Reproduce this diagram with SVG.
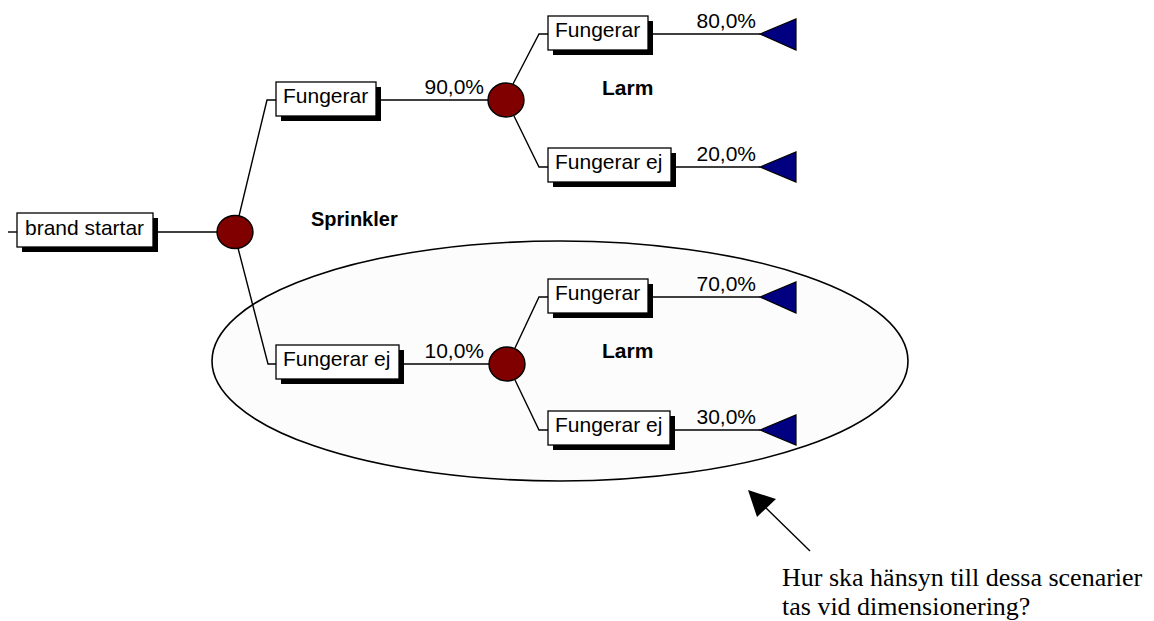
<svg xmlns="http://www.w3.org/2000/svg" width="1154" height="621" viewBox="0 0 1154 621">
<style>
.sh{fill:#000}
.bx{fill:#fff;stroke:#000;stroke-width:1.3}
.lbl{font-family:"Liberation Sans",Arial,sans-serif;font-size:21px;fill:#000}
.bold{font-family:"Liberation Sans",Arial,sans-serif;font-size:21px;font-weight:bold;fill:#000}
.pct{font-family:"Liberation Sans",Arial,sans-serif;font-size:21px;fill:#000;text-anchor:end}
.ln{fill:none;stroke:#000;stroke-width:1.4}
.ch{fill:#800000;stroke:#000;stroke-width:1.4}
.end{fill:#000080;stroke:#000;stroke-width:1.2}
.note{font-family:"Liberation Serif","Times New Roman",serif;font-size:26px;fill:#000}
</style>
<rect width="1154" height="621" fill="#fff"/>
<ellipse id="scenario-ellipse" cx="560" cy="361" rx="348" ry="120" fill="#fcfcfc" stroke="#000" stroke-width="1.6"/>
<g id="connectors">
<path class="ln" d="M8 232H17"/>
<path class="ln" d="M153 232H217"/>
<path class="ln" d="M239 216L267 100H276"/>
<path class="ln" d="M238 248L268 364H276"/>
<path class="ln" d="M376 100H488"/>
<path class="ln" d="M399 364H489"/>
<path class="ln" d="M513 84L539 34H548"/>
<path class="ln" d="M514 116L539 167H548"/>
<path class="ln" d="M515 348L539 297H548"/>
<path class="ln" d="M515 380L539 430H548"/>
<path class="ln" d="M648 34H760"/>
<path class="ln" d="M671 167H760"/>
<path class="ln" d="M648 297H760"/>
<path class="ln" d="M670 430H760"/>
<path class="ln" d="M810 551L765 507" stroke-width="1.8"/>
<polygon points="748,490 757,517 776,499" fill="#000"/>
</g>
<g id="n-brand"><rect class="sh" x="22" y="218" width="136" height="34"/><rect class="bx" x="17" y="213" width="136" height="34"/><text class="lbl" x="25" y="235">brand startar</text></g>
<g id="c-sprinkler"><ellipse class="ch" cx="235" cy="232" rx="18" ry="16.5"/><text class="bold" x="311" y="226" style="font-size:20px">Sprinkler</text></g>
<g id="n-s-fungerar"><rect class="sh" x="281" y="87" width="100" height="34"/><rect class="bx" x="276" y="82" width="100" height="34"/><text class="lbl" x="283" y="103">Fungerar</text><text class="pct" x="484" y="94">90,0%</text></g>
<g id="n-s-fungerar-ej"><rect class="sh" x="281" y="350" width="123" height="34"/><rect class="bx" x="276" y="345" width="123" height="34"/><text class="lbl" x="283" y="366">Fungerar ej</text><text class="pct" x="484" y="358">10,0%</text></g>
<g id="c-larm-1"><ellipse class="ch" cx="506" cy="100" rx="18" ry="17"/><text class="bold" x="602" y="95">Larm</text></g>
<g id="c-larm-2"><ellipse class="ch" cx="507" cy="364" rx="18" ry="17"/><text class="bold" x="602" y="358">Larm</text></g>
<g id="n-l1-fungerar"><rect class="sh" x="553" y="21" width="100" height="34"/><rect class="bx" x="548" y="16" width="100" height="34"/><text class="lbl" x="555" y="37">Fungerar</text><text class="pct" x="756" y="28">80,0%</text><polygon class="end" points="760,34 796,19 796,50"/></g>
<g id="n-l1-fungerar-ej"><rect class="sh" x="553" y="153" width="123" height="34"/><rect class="bx" x="548" y="148" width="123" height="34"/><text class="lbl" x="555" y="169">Fungerar ej</text><text class="pct" x="756" y="161">20,0%</text><polygon class="end" points="760,167 796,152 796,182"/></g>
<g id="n-l2-fungerar"><rect class="sh" x="553" y="284" width="100" height="34"/><rect class="bx" x="548" y="279" width="100" height="34"/><text class="lbl" x="555" y="300">Fungerar</text><text class="pct" x="756" y="291">70,0%</text><polygon class="end" points="760,297 796,282 796,313"/></g>
<g id="n-l2-fungerar-ej"><rect class="sh" x="553" y="416" width="122" height="34"/><rect class="bx" x="548" y="411" width="122" height="34"/><text class="lbl" x="555" y="432">Fungerar ej</text><text class="pct" x="756" y="424">30,0%</text><polygon class="end" points="760,430 796,415 796,445"/></g>
<g id="note"><text class="note" x="782" y="586">Hur ska hänsyn till dessa scenarier</text><text class="note" x="782" y="615">tas vid dimensionering?</text></g>
</svg>
